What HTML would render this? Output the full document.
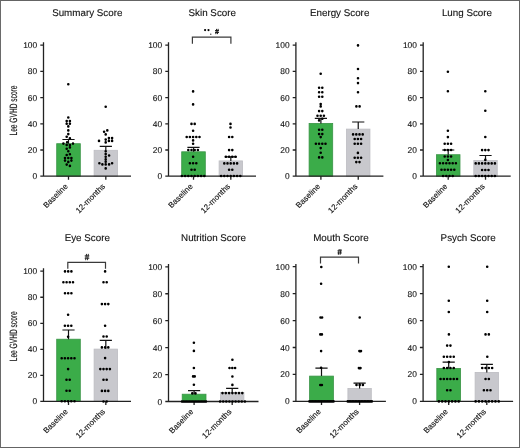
<!DOCTYPE html>
<html><head><meta charset="utf-8"><style>
html,body{margin:0;padding:0;background:#fff;}
body{width:520px;height:448px;overflow:hidden;position:relative;}
.frame{position:absolute;left:0;top:0;width:518px;height:446px;border:1px solid #646464;border-left-color:#6a6a6a;}
svg{position:absolute;left:0;top:0;will-change:transform;}
text{font-family:"Liberation Sans",sans-serif;fill:#111;stroke:#111;stroke-width:0.12;text-rendering:geometricPrecision;}
.ti{font-size:9.8px;text-anchor:middle;}
.tk{font-size:8.4px;text-anchor:end;}
.xl{font-size:8.0px;text-anchor:end;}
.yl{font-size:10.6px;text-anchor:middle;stroke:#222;stroke-width:0.15;}
.bl{font-size:8.5px;text-anchor:middle;stroke:#222;stroke-width:0.25;}
.ax{stroke:#222;stroke-width:1.3;fill:none;}
.eb{stroke:#111;stroke-width:1.2;fill:none;}
.br{stroke:#3a3a3a;stroke-width:1.2;fill:none;}
.dt{fill:#000;}
.gb{fill:#3bac49;stroke:#3a9447;stroke-width:0.8;}
.hb{fill:#c8c8cd;stroke:#bdbdc2;stroke-width:0.8;}
</style></head><body>
<div class="frame"></div>
<svg width="520" height="448" viewBox="0 0 520 448">
<rect x="56.7" y="143.7" width="23.6" height="32.5" class="gb"/>
<rect x="94.1" y="150.3" width="23.45" height="25.9" class="hb"/>
<path d="M68.5 143.7V139.5M62.4 139.5H74.6" class="eb"/>
<path d="M105.82 150.3V146.4M99.72 146.4H111.92" class="eb"/>
<path d="M43.5 42.2V176.2H131M40.3 176.2H43.5M40.3 150H43.5M40.3 123.8H43.5M40.3 97.6H43.5M40.3 71.4H43.5M40.3 45.2H43.5M68.5 176.2v3.5M105.82 176.2v3.5" class="ax"/>
<path d="M67 84.2a1.3 1.3 0 1 0 2.6 0a1.3 1.3 0 1 0 -2.6 0M67 117.5a1.3 1.3 0 1 0 2.6 0a1.3 1.3 0 1 0 -2.6 0M65.4 121.1a1.3 1.3 0 1 0 2.6 0a1.3 1.3 0 1 0 -2.6 0M68.6 121.1a1.3 1.3 0 1 0 2.6 0a1.3 1.3 0 1 0 -2.6 0M65.4 123.7a1.3 1.3 0 1 0 2.6 0a1.3 1.3 0 1 0 -2.6 0M68.6 123.7a1.3 1.3 0 1 0 2.6 0a1.3 1.3 0 1 0 -2.6 0M67 126.4a1.3 1.3 0 1 0 2.6 0a1.3 1.3 0 1 0 -2.6 0M67 130.4a1.3 1.3 0 1 0 2.6 0a1.3 1.3 0 1 0 -2.6 0M67 134.1a1.3 1.3 0 1 0 2.6 0a1.3 1.3 0 1 0 -2.6 0M65.4 136.8a1.3 1.3 0 1 0 2.6 0a1.3 1.3 0 1 0 -2.6 0M68.6 138.3a1.3 1.3 0 1 0 2.6 0a1.3 1.3 0 1 0 -2.6 0M65.8 142.2a1.3 1.3 0 1 0 2.6 0a1.3 1.3 0 1 0 -2.6 0M62.1 143.6a1.3 1.3 0 1 0 2.6 0a1.3 1.3 0 1 0 -2.6 0M71.7 143.6a1.3 1.3 0 1 0 2.6 0a1.3 1.3 0 1 0 -2.6 0M65.4 145a1.3 1.3 0 1 0 2.6 0a1.3 1.3 0 1 0 -2.6 0M68.6 145a1.3 1.3 0 1 0 2.6 0a1.3 1.3 0 1 0 -2.6 0M68.6 147.4a1.3 1.3 0 1 0 2.6 0a1.3 1.3 0 1 0 -2.6 0M65.4 148.7a1.3 1.3 0 1 0 2.6 0a1.3 1.3 0 1 0 -2.6 0M67 151.3a1.3 1.3 0 1 0 2.6 0a1.3 1.3 0 1 0 -2.6 0M68.6 154.2a1.3 1.3 0 1 0 2.6 0a1.3 1.3 0 1 0 -2.6 0M65.4 155a1.3 1.3 0 1 0 2.6 0a1.3 1.3 0 1 0 -2.6 0M63.7 158a1.3 1.3 0 1 0 2.6 0a1.3 1.3 0 1 0 -2.6 0M67 158a1.3 1.3 0 1 0 2.6 0a1.3 1.3 0 1 0 -2.6 0M70.1 158a1.3 1.3 0 1 0 2.6 0a1.3 1.3 0 1 0 -2.6 0M63.7 160.6a1.3 1.3 0 1 0 2.6 0a1.3 1.3 0 1 0 -2.6 0M70.1 160.6a1.3 1.3 0 1 0 2.6 0a1.3 1.3 0 1 0 -2.6 0M67 161.9a1.3 1.3 0 1 0 2.6 0a1.3 1.3 0 1 0 -2.6 0M65.4 164.6a1.3 1.3 0 1 0 2.6 0a1.3 1.3 0 1 0 -2.6 0M68.6 165.9a1.3 1.3 0 1 0 2.6 0a1.3 1.3 0 1 0 -2.6 0M104.4 106.8a1.3 1.3 0 1 0 2.6 0a1.3 1.3 0 1 0 -2.6 0M106 130.4a1.3 1.3 0 1 0 2.6 0a1.3 1.3 0 1 0 -2.6 0M102.8 131.7a1.3 1.3 0 1 0 2.6 0a1.3 1.3 0 1 0 -2.6 0M104.4 134.4a1.3 1.3 0 1 0 2.6 0a1.3 1.3 0 1 0 -2.6 0M107.6 138.1a1.3 1.3 0 1 0 2.6 0a1.3 1.3 0 1 0 -2.6 0M110.8 138.1a1.3 1.3 0 1 0 2.6 0a1.3 1.3 0 1 0 -2.6 0M104.4 139.6a1.3 1.3 0 1 0 2.6 0a1.3 1.3 0 1 0 -2.6 0M97.7 140.9a1.3 1.3 0 1 0 2.6 0a1.3 1.3 0 1 0 -2.6 0M107.6 140.9a1.3 1.3 0 1 0 2.6 0a1.3 1.3 0 1 0 -2.6 0M110.8 140.9a1.3 1.3 0 1 0 2.6 0a1.3 1.3 0 1 0 -2.6 0M104.4 142.4a1.3 1.3 0 1 0 2.6 0a1.3 1.3 0 1 0 -2.6 0M104.4 151.3a1.3 1.3 0 1 0 2.6 0a1.3 1.3 0 1 0 -2.6 0M104.4 154a1.3 1.3 0 1 0 2.6 0a1.3 1.3 0 1 0 -2.6 0M107.8 155.5a1.3 1.3 0 1 0 2.6 0a1.3 1.3 0 1 0 -2.6 0M104.4 156.7a1.3 1.3 0 1 0 2.6 0a1.3 1.3 0 1 0 -2.6 0M104.4 159.4a1.3 1.3 0 1 0 2.6 0a1.3 1.3 0 1 0 -2.6 0M104.4 161.7a1.3 1.3 0 1 0 2.6 0a1.3 1.3 0 1 0 -2.6 0M98.1 163.3a1.3 1.3 0 1 0 2.6 0a1.3 1.3 0 1 0 -2.6 0M101.1 164.4a1.3 1.3 0 1 0 2.6 0a1.3 1.3 0 1 0 -2.6 0M104.4 164.4a1.3 1.3 0 1 0 2.6 0a1.3 1.3 0 1 0 -2.6 0M107.8 164.4a1.3 1.3 0 1 0 2.6 0a1.3 1.3 0 1 0 -2.6 0M110.8 163.3a1.3 1.3 0 1 0 2.6 0a1.3 1.3 0 1 0 -2.6 0M104.4 168.4a1.3 1.3 0 1 0 2.6 0a1.3 1.3 0 1 0 -2.6 0" class="dt"/>
<text x="37.2" y="179.2" class="tk">0</text>
<text x="37.2" y="153" class="tk">20</text>
<text x="37.2" y="126.8" class="tk">40</text>
<text x="37.2" y="100.6" class="tk">60</text>
<text x="37.2" y="74.4" class="tk">80</text>
<text x="37.2" y="48.2" class="tk">100</text>
<text transform="translate(68.3 186.9) rotate(-45)" class="xl">Baseline</text>
<text transform="translate(105.62 186.9) rotate(-45)" class="xl">12-months</text>
<text x="87.25" y="16" class="ti">Summary Score</text>
<rect x="181.7" y="151.8" width="23.6" height="24.4" class="gb"/>
<rect x="219.1" y="160.9" width="23.45" height="15.3" class="hb"/>
<path d="M193.5 151.8V147.4M187.4 147.4H199.6" class="eb"/>
<path d="M230.82 160.9V156.8M224.72 156.8H236.92" class="eb"/>
<path d="M168.5 42.2V176.2H256M165.3 176.2H168.5M165.3 150H168.5M165.3 123.8H168.5M165.3 97.6H168.5M165.3 71.4H168.5M165.3 45.2H168.5M193.5 176.2v3.5M230.82 176.2v3.5" class="ax"/>
<path d="M191.8 91.4a1.3 1.3 0 1 0 2.6 0a1.3 1.3 0 1 0 -2.6 0M191.8 104.4a1.3 1.3 0 1 0 2.6 0a1.3 1.3 0 1 0 -2.6 0M190.2 123.9a1.3 1.3 0 1 0 2.6 0a1.3 1.3 0 1 0 -2.6 0M193.4 123.9a1.3 1.3 0 1 0 2.6 0a1.3 1.3 0 1 0 -2.6 0M191.8 130.8a1.3 1.3 0 1 0 2.6 0a1.3 1.3 0 1 0 -2.6 0M185.4 137a1.3 1.3 0 1 0 2.6 0a1.3 1.3 0 1 0 -2.6 0M188.6 137a1.3 1.3 0 1 0 2.6 0a1.3 1.3 0 1 0 -2.6 0M191.8 137a1.3 1.3 0 1 0 2.6 0a1.3 1.3 0 1 0 -2.6 0M195 137a1.3 1.3 0 1 0 2.6 0a1.3 1.3 0 1 0 -2.6 0M198.2 137a1.3 1.3 0 1 0 2.6 0a1.3 1.3 0 1 0 -2.6 0M191.8 140.4a1.3 1.3 0 1 0 2.6 0a1.3 1.3 0 1 0 -2.6 0M191.8 143.7a1.3 1.3 0 1 0 2.6 0a1.3 1.3 0 1 0 -2.6 0M187 150a1.3 1.3 0 1 0 2.6 0a1.3 1.3 0 1 0 -2.6 0M190.2 150a1.3 1.3 0 1 0 2.6 0a1.3 1.3 0 1 0 -2.6 0M193.4 150a1.3 1.3 0 1 0 2.6 0a1.3 1.3 0 1 0 -2.6 0M196.6 150a1.3 1.3 0 1 0 2.6 0a1.3 1.3 0 1 0 -2.6 0M191.8 156.7a1.3 1.3 0 1 0 2.6 0a1.3 1.3 0 1 0 -2.6 0M188.6 163.3a1.3 1.3 0 1 0 2.6 0a1.3 1.3 0 1 0 -2.6 0M191.8 163.3a1.3 1.3 0 1 0 2.6 0a1.3 1.3 0 1 0 -2.6 0M195 163.3a1.3 1.3 0 1 0 2.6 0a1.3 1.3 0 1 0 -2.6 0M190.2 169.7a1.3 1.3 0 1 0 2.6 0a1.3 1.3 0 1 0 -2.6 0M193.4 169.7a1.3 1.3 0 1 0 2.6 0a1.3 1.3 0 1 0 -2.6 0M180.6 176a1.3 1.3 0 1 0 2.6 0a1.3 1.3 0 1 0 -2.6 0M183.8 176a1.3 1.3 0 1 0 2.6 0a1.3 1.3 0 1 0 -2.6 0M187 176a1.3 1.3 0 1 0 2.6 0a1.3 1.3 0 1 0 -2.6 0M190.2 176a1.3 1.3 0 1 0 2.6 0a1.3 1.3 0 1 0 -2.6 0M193.4 176a1.3 1.3 0 1 0 2.6 0a1.3 1.3 0 1 0 -2.6 0M196.6 176a1.3 1.3 0 1 0 2.6 0a1.3 1.3 0 1 0 -2.6 0M199.8 176a1.3 1.3 0 1 0 2.6 0a1.3 1.3 0 1 0 -2.6 0M203 176a1.3 1.3 0 1 0 2.6 0a1.3 1.3 0 1 0 -2.6 0M229.2 123.9a1.3 1.3 0 1 0 2.6 0a1.3 1.3 0 1 0 -2.6 0M229.2 127.5a1.3 1.3 0 1 0 2.6 0a1.3 1.3 0 1 0 -2.6 0M227.8 137a1.3 1.3 0 1 0 2.6 0a1.3 1.3 0 1 0 -2.6 0M231 137a1.3 1.3 0 1 0 2.6 0a1.3 1.3 0 1 0 -2.6 0M227.8 150.1a1.3 1.3 0 1 0 2.6 0a1.3 1.3 0 1 0 -2.6 0M231 150.1a1.3 1.3 0 1 0 2.6 0a1.3 1.3 0 1 0 -2.6 0M224.6 156.8a1.3 1.3 0 1 0 2.6 0a1.3 1.3 0 1 0 -2.6 0M227.8 156.8a1.3 1.3 0 1 0 2.6 0a1.3 1.3 0 1 0 -2.6 0M231 156.8a1.3 1.3 0 1 0 2.6 0a1.3 1.3 0 1 0 -2.6 0M234.2 156.8a1.3 1.3 0 1 0 2.6 0a1.3 1.3 0 1 0 -2.6 0M223 163.4a1.3 1.3 0 1 0 2.6 0a1.3 1.3 0 1 0 -2.6 0M226.2 163.4a1.3 1.3 0 1 0 2.6 0a1.3 1.3 0 1 0 -2.6 0M229.4 163.4a1.3 1.3 0 1 0 2.6 0a1.3 1.3 0 1 0 -2.6 0M232.6 163.4a1.3 1.3 0 1 0 2.6 0a1.3 1.3 0 1 0 -2.6 0M235.8 163.4a1.3 1.3 0 1 0 2.6 0a1.3 1.3 0 1 0 -2.6 0M227.8 169.7a1.3 1.3 0 1 0 2.6 0a1.3 1.3 0 1 0 -2.6 0M231 169.7a1.3 1.3 0 1 0 2.6 0a1.3 1.3 0 1 0 -2.6 0M219.8 176a1.3 1.3 0 1 0 2.6 0a1.3 1.3 0 1 0 -2.6 0M223 176a1.3 1.3 0 1 0 2.6 0a1.3 1.3 0 1 0 -2.6 0M226.2 176a1.3 1.3 0 1 0 2.6 0a1.3 1.3 0 1 0 -2.6 0M229.4 176a1.3 1.3 0 1 0 2.6 0a1.3 1.3 0 1 0 -2.6 0M232.6 176a1.3 1.3 0 1 0 2.6 0a1.3 1.3 0 1 0 -2.6 0M235.8 176a1.3 1.3 0 1 0 2.6 0a1.3 1.3 0 1 0 -2.6 0M239 176a1.3 1.3 0 1 0 2.6 0a1.3 1.3 0 1 0 -2.6 0" class="dt"/>
<text x="162.2" y="179.2" class="tk">0</text>
<text x="162.2" y="153" class="tk">20</text>
<text x="162.2" y="126.8" class="tk">40</text>
<text x="162.2" y="100.6" class="tk">60</text>
<text x="162.2" y="74.4" class="tk">80</text>
<text x="162.2" y="48.2" class="tk">100</text>
<text transform="translate(193.3 186.9) rotate(-45)" class="xl">Baseline</text>
<text transform="translate(230.62 186.9) rotate(-45)" class="xl">12-months</text>
<text x="212.25" y="16" class="ti">Skin Score</text>
<path d="M192.4 43.8V37.2H230.9V43.8" class="br"/>
<circle cx="205.1" cy="30.1" r="1.1" class="dt"/><circle cx="208.5" cy="30.1" r="1.1" class="dt"/><circle cx="210.8" cy="34.2" r="0.6" class="dt"/><path d="M215.77 34.15L216.67 28.85M217.33 34.15L218.23 28.85M215.05 30.55H218.95M215.05 32.45H218.95" stroke="#1a1a1a" stroke-width="1.0" fill="none"/>
<rect x="309.1" y="123.4" width="23.6" height="52.8" class="gb"/>
<rect x="346.5" y="129.1" width="23.45" height="47.1" class="hb"/>
<path d="M320.9 123.4V118.3M314.8 118.3H327" class="eb"/>
<path d="M358.23 129.1V122M352.12 122H364.33" class="eb"/>
<path d="M295.9 42.2V176.2H383.4M292.7 176.2H295.9M292.7 150H295.9M292.7 123.8H295.9M292.7 97.6H295.9M292.7 71.4H295.9M292.7 45.2H295.9M320.9 176.2v3.5M358.23 176.2v3.5" class="ax"/>
<path d="M319.4 73.7a1.3 1.3 0 1 0 2.6 0a1.3 1.3 0 1 0 -2.6 0M317.8 87.8a1.3 1.3 0 1 0 2.6 0a1.3 1.3 0 1 0 -2.6 0M321 87.8a1.3 1.3 0 1 0 2.6 0a1.3 1.3 0 1 0 -2.6 0M317.8 92.3a1.3 1.3 0 1 0 2.6 0a1.3 1.3 0 1 0 -2.6 0M321 92.3a1.3 1.3 0 1 0 2.6 0a1.3 1.3 0 1 0 -2.6 0M317.8 96.8a1.3 1.3 0 1 0 2.6 0a1.3 1.3 0 1 0 -2.6 0M321 96.8a1.3 1.3 0 1 0 2.6 0a1.3 1.3 0 1 0 -2.6 0M319.4 104.1a1.3 1.3 0 1 0 2.6 0a1.3 1.3 0 1 0 -2.6 0M319.4 106.4a1.3 1.3 0 1 0 2.6 0a1.3 1.3 0 1 0 -2.6 0M317.8 111.1a1.3 1.3 0 1 0 2.6 0a1.3 1.3 0 1 0 -2.6 0M321 111.1a1.3 1.3 0 1 0 2.6 0a1.3 1.3 0 1 0 -2.6 0M316.2 115.7a1.3 1.3 0 1 0 2.6 0a1.3 1.3 0 1 0 -2.6 0M319.4 115.7a1.3 1.3 0 1 0 2.6 0a1.3 1.3 0 1 0 -2.6 0M322.6 115.7a1.3 1.3 0 1 0 2.6 0a1.3 1.3 0 1 0 -2.6 0M321 118.7a1.3 1.3 0 1 0 2.6 0a1.3 1.3 0 1 0 -2.6 0M317.8 120.4a1.3 1.3 0 1 0 2.6 0a1.3 1.3 0 1 0 -2.6 0M317.8 129.7a1.3 1.3 0 1 0 2.6 0a1.3 1.3 0 1 0 -2.6 0M321 129.7a1.3 1.3 0 1 0 2.6 0a1.3 1.3 0 1 0 -2.6 0M317.8 134.1a1.3 1.3 0 1 0 2.6 0a1.3 1.3 0 1 0 -2.6 0M321 134.1a1.3 1.3 0 1 0 2.6 0a1.3 1.3 0 1 0 -2.6 0M319.4 137.1a1.3 1.3 0 1 0 2.6 0a1.3 1.3 0 1 0 -2.6 0M314.6 143.7a1.3 1.3 0 1 0 2.6 0a1.3 1.3 0 1 0 -2.6 0M317.8 143.7a1.3 1.3 0 1 0 2.6 0a1.3 1.3 0 1 0 -2.6 0M321 143.7a1.3 1.3 0 1 0 2.6 0a1.3 1.3 0 1 0 -2.6 0M324.2 143.7a1.3 1.3 0 1 0 2.6 0a1.3 1.3 0 1 0 -2.6 0M319.4 148.1a1.3 1.3 0 1 0 2.6 0a1.3 1.3 0 1 0 -2.6 0M319.4 152.7a1.3 1.3 0 1 0 2.6 0a1.3 1.3 0 1 0 -2.6 0M317.8 157.4a1.3 1.3 0 1 0 2.6 0a1.3 1.3 0 1 0 -2.6 0M321 157.4a1.3 1.3 0 1 0 2.6 0a1.3 1.3 0 1 0 -2.6 0M356.7 45.4a1.3 1.3 0 1 0 2.6 0a1.3 1.3 0 1 0 -2.6 0M356.7 69a1.3 1.3 0 1 0 2.6 0a1.3 1.3 0 1 0 -2.6 0M356.7 78.3a1.3 1.3 0 1 0 2.6 0a1.3 1.3 0 1 0 -2.6 0M356.7 83.1a1.3 1.3 0 1 0 2.6 0a1.3 1.3 0 1 0 -2.6 0M356.7 92.2a1.3 1.3 0 1 0 2.6 0a1.3 1.3 0 1 0 -2.6 0M355.1 106.4a1.3 1.3 0 1 0 2.6 0a1.3 1.3 0 1 0 -2.6 0M358.3 106.4a1.3 1.3 0 1 0 2.6 0a1.3 1.3 0 1 0 -2.6 0M351.8 134.4a1.3 1.3 0 1 0 2.6 0a1.3 1.3 0 1 0 -2.6 0M355 134.4a1.3 1.3 0 1 0 2.6 0a1.3 1.3 0 1 0 -2.6 0M358.2 134.4a1.3 1.3 0 1 0 2.6 0a1.3 1.3 0 1 0 -2.6 0M361.4 134.4a1.3 1.3 0 1 0 2.6 0a1.3 1.3 0 1 0 -2.6 0M353.4 139a1.3 1.3 0 1 0 2.6 0a1.3 1.3 0 1 0 -2.6 0M356.6 139a1.3 1.3 0 1 0 2.6 0a1.3 1.3 0 1 0 -2.6 0M359.8 139a1.3 1.3 0 1 0 2.6 0a1.3 1.3 0 1 0 -2.6 0M353.4 143.7a1.3 1.3 0 1 0 2.6 0a1.3 1.3 0 1 0 -2.6 0M356.6 143.7a1.3 1.3 0 1 0 2.6 0a1.3 1.3 0 1 0 -2.6 0M359.8 143.7a1.3 1.3 0 1 0 2.6 0a1.3 1.3 0 1 0 -2.6 0M356.6 152.9a1.3 1.3 0 1 0 2.6 0a1.3 1.3 0 1 0 -2.6 0M353.4 157.8a1.3 1.3 0 1 0 2.6 0a1.3 1.3 0 1 0 -2.6 0M356.6 157.8a1.3 1.3 0 1 0 2.6 0a1.3 1.3 0 1 0 -2.6 0M359.8 157.8a1.3 1.3 0 1 0 2.6 0a1.3 1.3 0 1 0 -2.6 0M355 162.1a1.3 1.3 0 1 0 2.6 0a1.3 1.3 0 1 0 -2.6 0M358.2 162.1a1.3 1.3 0 1 0 2.6 0a1.3 1.3 0 1 0 -2.6 0" class="dt"/>
<text x="289.6" y="179.2" class="tk">0</text>
<text x="289.6" y="153" class="tk">20</text>
<text x="289.6" y="126.8" class="tk">40</text>
<text x="289.6" y="100.6" class="tk">60</text>
<text x="289.6" y="74.4" class="tk">80</text>
<text x="289.6" y="48.2" class="tk">100</text>
<text transform="translate(320.7 186.9) rotate(-45)" class="xl">Baseline</text>
<text transform="translate(358.03 186.9) rotate(-45)" class="xl">12-months</text>
<text x="339.65" y="16" class="ti">Energy Score</text>
<rect x="436.4" y="154.7" width="23.6" height="21.5" class="gb"/>
<rect x="473.8" y="160.4" width="23.45" height="15.8" class="hb"/>
<path d="M448.2 154.7V150M442.1 150H454.3" class="eb"/>
<path d="M485.52 160.4V155.5M479.42 155.5H491.62" class="eb"/>
<path d="M423.2 42.2V176.2H510.7M420 176.2H423.2M420 150H423.2M420 123.8H423.2M420 97.6H423.2M420 71.4H423.2M420 45.2H423.2M448.2 176.2v3.5M485.52 176.2v3.5" class="ax"/>
<path d="M446.6 71.7a1.3 1.3 0 1 0 2.6 0a1.3 1.3 0 1 0 -2.6 0M446.6 91.3a1.3 1.3 0 1 0 2.6 0a1.3 1.3 0 1 0 -2.6 0M446.6 130.7a1.3 1.3 0 1 0 2.6 0a1.3 1.3 0 1 0 -2.6 0M446.6 137.1a1.3 1.3 0 1 0 2.6 0a1.3 1.3 0 1 0 -2.6 0M443.4 143.8a1.3 1.3 0 1 0 2.6 0a1.3 1.3 0 1 0 -2.6 0M446.6 143.8a1.3 1.3 0 1 0 2.6 0a1.3 1.3 0 1 0 -2.6 0M449.8 143.8a1.3 1.3 0 1 0 2.6 0a1.3 1.3 0 1 0 -2.6 0M443.4 150a1.3 1.3 0 1 0 2.6 0a1.3 1.3 0 1 0 -2.6 0M446.6 150a1.3 1.3 0 1 0 2.6 0a1.3 1.3 0 1 0 -2.6 0M449.8 150a1.3 1.3 0 1 0 2.6 0a1.3 1.3 0 1 0 -2.6 0M443.4 156.5a1.3 1.3 0 1 0 2.6 0a1.3 1.3 0 1 0 -2.6 0M446.6 156.5a1.3 1.3 0 1 0 2.6 0a1.3 1.3 0 1 0 -2.6 0M449.8 156.5a1.3 1.3 0 1 0 2.6 0a1.3 1.3 0 1 0 -2.6 0M446.6 160a1.3 1.3 0 1 0 2.6 0a1.3 1.3 0 1 0 -2.6 0M438.6 163.3a1.3 1.3 0 1 0 2.6 0a1.3 1.3 0 1 0 -2.6 0M441.8 163.3a1.3 1.3 0 1 0 2.6 0a1.3 1.3 0 1 0 -2.6 0M445 163.3a1.3 1.3 0 1 0 2.6 0a1.3 1.3 0 1 0 -2.6 0M448.2 163.3a1.3 1.3 0 1 0 2.6 0a1.3 1.3 0 1 0 -2.6 0M451.4 163.3a1.3 1.3 0 1 0 2.6 0a1.3 1.3 0 1 0 -2.6 0M454.6 163.3a1.3 1.3 0 1 0 2.6 0a1.3 1.3 0 1 0 -2.6 0M440.2 169.7a1.3 1.3 0 1 0 2.6 0a1.3 1.3 0 1 0 -2.6 0M443.4 169.7a1.3 1.3 0 1 0 2.6 0a1.3 1.3 0 1 0 -2.6 0M446.6 169.7a1.3 1.3 0 1 0 2.6 0a1.3 1.3 0 1 0 -2.6 0M449.8 169.7a1.3 1.3 0 1 0 2.6 0a1.3 1.3 0 1 0 -2.6 0M453 169.7a1.3 1.3 0 1 0 2.6 0a1.3 1.3 0 1 0 -2.6 0M441.8 176a1.3 1.3 0 1 0 2.6 0a1.3 1.3 0 1 0 -2.6 0M445 176a1.3 1.3 0 1 0 2.6 0a1.3 1.3 0 1 0 -2.6 0M448.2 176a1.3 1.3 0 1 0 2.6 0a1.3 1.3 0 1 0 -2.6 0M451.4 176a1.3 1.3 0 1 0 2.6 0a1.3 1.3 0 1 0 -2.6 0M484 91.3a1.3 1.3 0 1 0 2.6 0a1.3 1.3 0 1 0 -2.6 0M484 110.8a1.3 1.3 0 1 0 2.6 0a1.3 1.3 0 1 0 -2.6 0M484 137a1.3 1.3 0 1 0 2.6 0a1.3 1.3 0 1 0 -2.6 0M480.8 150.1a1.3 1.3 0 1 0 2.6 0a1.3 1.3 0 1 0 -2.6 0M484 150.1a1.3 1.3 0 1 0 2.6 0a1.3 1.3 0 1 0 -2.6 0M487.2 150.1a1.3 1.3 0 1 0 2.6 0a1.3 1.3 0 1 0 -2.6 0M484 159.9a1.3 1.3 0 1 0 2.6 0a1.3 1.3 0 1 0 -2.6 0M474.4 163.4a1.3 1.3 0 1 0 2.6 0a1.3 1.3 0 1 0 -2.6 0M477.6 163.4a1.3 1.3 0 1 0 2.6 0a1.3 1.3 0 1 0 -2.6 0M480.8 163.4a1.3 1.3 0 1 0 2.6 0a1.3 1.3 0 1 0 -2.6 0M484 163.4a1.3 1.3 0 1 0 2.6 0a1.3 1.3 0 1 0 -2.6 0M487.2 163.4a1.3 1.3 0 1 0 2.6 0a1.3 1.3 0 1 0 -2.6 0M490.4 163.4a1.3 1.3 0 1 0 2.6 0a1.3 1.3 0 1 0 -2.6 0M493.6 163.4a1.3 1.3 0 1 0 2.6 0a1.3 1.3 0 1 0 -2.6 0M480.8 170a1.3 1.3 0 1 0 2.6 0a1.3 1.3 0 1 0 -2.6 0M484 170a1.3 1.3 0 1 0 2.6 0a1.3 1.3 0 1 0 -2.6 0M487.2 170a1.3 1.3 0 1 0 2.6 0a1.3 1.3 0 1 0 -2.6 0M474.4 176a1.3 1.3 0 1 0 2.6 0a1.3 1.3 0 1 0 -2.6 0M477.6 176a1.3 1.3 0 1 0 2.6 0a1.3 1.3 0 1 0 -2.6 0M480.8 176a1.3 1.3 0 1 0 2.6 0a1.3 1.3 0 1 0 -2.6 0M484 176a1.3 1.3 0 1 0 2.6 0a1.3 1.3 0 1 0 -2.6 0M487.2 176a1.3 1.3 0 1 0 2.6 0a1.3 1.3 0 1 0 -2.6 0M490.4 176a1.3 1.3 0 1 0 2.6 0a1.3 1.3 0 1 0 -2.6 0M493.6 176a1.3 1.3 0 1 0 2.6 0a1.3 1.3 0 1 0 -2.6 0" class="dt"/>
<text x="416.9" y="179.2" class="tk">0</text>
<text x="416.9" y="153" class="tk">20</text>
<text x="416.9" y="126.8" class="tk">40</text>
<text x="416.9" y="100.6" class="tk">60</text>
<text x="416.9" y="74.4" class="tk">80</text>
<text x="416.9" y="48.2" class="tk">100</text>
<text transform="translate(448 186.9) rotate(-45)" class="xl">Baseline</text>
<text transform="translate(485.32 186.9) rotate(-45)" class="xl">12-months</text>
<text x="466.95" y="16" class="ti">Lung Score</text>
<rect x="56.7" y="339.2" width="23.6" height="62.2" class="gb"/>
<rect x="94.1" y="349.1" width="23.45" height="52.3" class="hb"/>
<path d="M68.5 339.2V330M62.4 330H74.6" class="eb"/>
<path d="M105.82 349.1V340.3M99.72 340.3H111.92" class="eb"/>
<path d="M43.5 268.2V401.4H131M40.3 401.4H43.5M40.3 375.36H43.5M40.3 349.32H43.5M40.3 323.28H43.5M40.3 297.24H43.5M40.3 271.2H43.5M68.5 401.4v3.5M105.82 401.4v3.5" class="ax"/>
<path d="M63.7 271.4a1.3 1.3 0 1 0 2.6 0a1.3 1.3 0 1 0 -2.6 0M66.9 271.4a1.3 1.3 0 1 0 2.6 0a1.3 1.3 0 1 0 -2.6 0M70.1 271.4a1.3 1.3 0 1 0 2.6 0a1.3 1.3 0 1 0 -2.6 0M62.1 282.3a1.3 1.3 0 1 0 2.6 0a1.3 1.3 0 1 0 -2.6 0M65.3 282.3a1.3 1.3 0 1 0 2.6 0a1.3 1.3 0 1 0 -2.6 0M68.5 282.3a1.3 1.3 0 1 0 2.6 0a1.3 1.3 0 1 0 -2.6 0M71.7 282.3a1.3 1.3 0 1 0 2.6 0a1.3 1.3 0 1 0 -2.6 0M63.7 293.2a1.3 1.3 0 1 0 2.6 0a1.3 1.3 0 1 0 -2.6 0M66.9 293.2a1.3 1.3 0 1 0 2.6 0a1.3 1.3 0 1 0 -2.6 0M70.1 293.2a1.3 1.3 0 1 0 2.6 0a1.3 1.3 0 1 0 -2.6 0M66.8 314.8a1.3 1.3 0 1 0 2.6 0a1.3 1.3 0 1 0 -2.6 0M63.6 325.7a1.3 1.3 0 1 0 2.6 0a1.3 1.3 0 1 0 -2.6 0M66.8 325.7a1.3 1.3 0 1 0 2.6 0a1.3 1.3 0 1 0 -2.6 0M70 325.7a1.3 1.3 0 1 0 2.6 0a1.3 1.3 0 1 0 -2.6 0M66.8 336.7a1.3 1.3 0 1 0 2.6 0a1.3 1.3 0 1 0 -2.6 0M60.4 358.3a1.3 1.3 0 1 0 2.6 0a1.3 1.3 0 1 0 -2.6 0M63.6 358.3a1.3 1.3 0 1 0 2.6 0a1.3 1.3 0 1 0 -2.6 0M66.8 358.3a1.3 1.3 0 1 0 2.6 0a1.3 1.3 0 1 0 -2.6 0M70 358.3a1.3 1.3 0 1 0 2.6 0a1.3 1.3 0 1 0 -2.6 0M73.2 358.3a1.3 1.3 0 1 0 2.6 0a1.3 1.3 0 1 0 -2.6 0M66.8 369.1a1.3 1.3 0 1 0 2.6 0a1.3 1.3 0 1 0 -2.6 0M65.2 379.8a1.3 1.3 0 1 0 2.6 0a1.3 1.3 0 1 0 -2.6 0M68.4 379.8a1.3 1.3 0 1 0 2.6 0a1.3 1.3 0 1 0 -2.6 0M65.2 390.7a1.3 1.3 0 1 0 2.6 0a1.3 1.3 0 1 0 -2.6 0M68.4 390.7a1.3 1.3 0 1 0 2.6 0a1.3 1.3 0 1 0 -2.6 0M60.4 401.3a1.3 1.3 0 1 0 2.6 0a1.3 1.3 0 1 0 -2.6 0M63.6 401.3a1.3 1.3 0 1 0 2.6 0a1.3 1.3 0 1 0 -2.6 0M66.8 401.3a1.3 1.3 0 1 0 2.6 0a1.3 1.3 0 1 0 -2.6 0M70 401.3a1.3 1.3 0 1 0 2.6 0a1.3 1.3 0 1 0 -2.6 0M73.2 401.3a1.3 1.3 0 1 0 2.6 0a1.3 1.3 0 1 0 -2.6 0M103.8 271.4a1.3 1.3 0 1 0 2.6 0a1.3 1.3 0 1 0 -2.6 0M102.2 282.3a1.3 1.3 0 1 0 2.6 0a1.3 1.3 0 1 0 -2.6 0M105.4 282.3a1.3 1.3 0 1 0 2.6 0a1.3 1.3 0 1 0 -2.6 0M100.6 304.1a1.3 1.3 0 1 0 2.6 0a1.3 1.3 0 1 0 -2.6 0M103.8 304.1a1.3 1.3 0 1 0 2.6 0a1.3 1.3 0 1 0 -2.6 0M107 304.1a1.3 1.3 0 1 0 2.6 0a1.3 1.3 0 1 0 -2.6 0M103.8 325.7a1.3 1.3 0 1 0 2.6 0a1.3 1.3 0 1 0 -2.6 0M102.2 336.5a1.3 1.3 0 1 0 2.6 0a1.3 1.3 0 1 0 -2.6 0M105.4 336.5a1.3 1.3 0 1 0 2.6 0a1.3 1.3 0 1 0 -2.6 0M100.6 347.4a1.3 1.3 0 1 0 2.6 0a1.3 1.3 0 1 0 -2.6 0M103.8 347.4a1.3 1.3 0 1 0 2.6 0a1.3 1.3 0 1 0 -2.6 0M107 347.4a1.3 1.3 0 1 0 2.6 0a1.3 1.3 0 1 0 -2.6 0M103.8 358.1a1.3 1.3 0 1 0 2.6 0a1.3 1.3 0 1 0 -2.6 0M99 369.1a1.3 1.3 0 1 0 2.6 0a1.3 1.3 0 1 0 -2.6 0M102.2 369.1a1.3 1.3 0 1 0 2.6 0a1.3 1.3 0 1 0 -2.6 0M105.4 369.1a1.3 1.3 0 1 0 2.6 0a1.3 1.3 0 1 0 -2.6 0M108.6 369.1a1.3 1.3 0 1 0 2.6 0a1.3 1.3 0 1 0 -2.6 0M102.2 379.8a1.3 1.3 0 1 0 2.6 0a1.3 1.3 0 1 0 -2.6 0M105.4 379.8a1.3 1.3 0 1 0 2.6 0a1.3 1.3 0 1 0 -2.6 0M100.6 390.9a1.3 1.3 0 1 0 2.6 0a1.3 1.3 0 1 0 -2.6 0M103.8 390.9a1.3 1.3 0 1 0 2.6 0a1.3 1.3 0 1 0 -2.6 0M107 390.9a1.3 1.3 0 1 0 2.6 0a1.3 1.3 0 1 0 -2.6 0M102.2 401.5a1.3 1.3 0 1 0 2.6 0a1.3 1.3 0 1 0 -2.6 0M105.4 401.5a1.3 1.3 0 1 0 2.6 0a1.3 1.3 0 1 0 -2.6 0" class="dt"/>
<text x="37.2" y="404.4" class="tk">0</text>
<text x="37.2" y="378.36" class="tk">20</text>
<text x="37.2" y="352.32" class="tk">40</text>
<text x="37.2" y="326.28" class="tk">60</text>
<text x="37.2" y="300.24" class="tk">80</text>
<text x="37.2" y="274.2" class="tk">100</text>
<text transform="translate(68.3 412.1) rotate(-45)" class="xl">Baseline</text>
<text transform="translate(105.62 412.1) rotate(-45)" class="xl">12-months</text>
<text x="87.25" y="240.8" class="ti">Eye Score</text>
<path d="M67.8 268.8V262.4H105.5V268.8" class="br"/>
<path d="M85.63 260.20L86.53 253.90M87.47 260.20L88.37 253.90M84.70 255.92H89.30M84.70 258.18H89.30" stroke="#1a1a1a" stroke-width="0.95" fill="none"/>
<rect x="182.2" y="394.2" width="23.8" height="7.3" class="gb"/>
<rect x="220.5" y="392.4" width="23.4" height="9.1" class="hb"/>
<path d="M194.1 394.2V390.6M188 390.6H200.2" class="eb"/>
<path d="M232.2 392.4V388.4M226.1 388.4H238.3" class="eb"/>
<path d="M168.5 263.9V401.5H258.5M165.3 401.5H168.5M165.3 374.56H168.5M165.3 347.62H168.5M165.3 320.68H168.5M165.3 293.74H168.5M165.3 266.8H168.5M194.1 401.5v3.5M232.2 401.5v3.5" class="ax"/>
<path d="M192.6 342.7a1.3 1.3 0 1 0 2.6 0a1.3 1.3 0 1 0 -2.6 0M192.6 350.9a1.3 1.3 0 1 0 2.6 0a1.3 1.3 0 1 0 -2.6 0M192.6 368a1.3 1.3 0 1 0 2.6 0a1.3 1.3 0 1 0 -2.6 0M191.8 376.4a1.3 1.3 0 1 0 2.6 0a1.3 1.3 0 1 0 -2.6 0M193.4 376.4a1.3 1.3 0 1 0 2.6 0a1.3 1.3 0 1 0 -2.6 0M192.6 384.8a1.3 1.3 0 1 0 2.6 0a1.3 1.3 0 1 0 -2.6 0M191 393.4a1.3 1.3 0 1 0 2.6 0a1.3 1.3 0 1 0 -2.6 0M194.2 393.4a1.3 1.3 0 1 0 2.6 0a1.3 1.3 0 1 0 -2.6 0M180.7 401.5a1.3 1.3 0 1 0 2.6 0a1.3 1.3 0 1 0 -2.6 0M182.2 401.5a1.3 1.3 0 1 0 2.6 0a1.3 1.3 0 1 0 -2.6 0M183.7 401.5a1.3 1.3 0 1 0 2.6 0a1.3 1.3 0 1 0 -2.6 0M185.2 401.5a1.3 1.3 0 1 0 2.6 0a1.3 1.3 0 1 0 -2.6 0M186.7 401.5a1.3 1.3 0 1 0 2.6 0a1.3 1.3 0 1 0 -2.6 0M188.2 401.5a1.3 1.3 0 1 0 2.6 0a1.3 1.3 0 1 0 -2.6 0M189.7 401.5a1.3 1.3 0 1 0 2.6 0a1.3 1.3 0 1 0 -2.6 0M191.2 401.5a1.3 1.3 0 1 0 2.6 0a1.3 1.3 0 1 0 -2.6 0M192.7 401.5a1.3 1.3 0 1 0 2.6 0a1.3 1.3 0 1 0 -2.6 0M194.2 401.5a1.3 1.3 0 1 0 2.6 0a1.3 1.3 0 1 0 -2.6 0M195.7 401.5a1.3 1.3 0 1 0 2.6 0a1.3 1.3 0 1 0 -2.6 0M197.2 401.5a1.3 1.3 0 1 0 2.6 0a1.3 1.3 0 1 0 -2.6 0M198.7 401.5a1.3 1.3 0 1 0 2.6 0a1.3 1.3 0 1 0 -2.6 0M200.2 401.5a1.3 1.3 0 1 0 2.6 0a1.3 1.3 0 1 0 -2.6 0M201.7 401.5a1.3 1.3 0 1 0 2.6 0a1.3 1.3 0 1 0 -2.6 0M203.2 401.5a1.3 1.3 0 1 0 2.6 0a1.3 1.3 0 1 0 -2.6 0M204.7 401.5a1.3 1.3 0 1 0 2.6 0a1.3 1.3 0 1 0 -2.6 0M231.1 359.7a1.3 1.3 0 1 0 2.6 0a1.3 1.3 0 1 0 -2.6 0M228.2 368a1.3 1.3 0 1 0 2.6 0a1.3 1.3 0 1 0 -2.6 0M231 368a1.3 1.3 0 1 0 2.6 0a1.3 1.3 0 1 0 -2.6 0M233.8 368a1.3 1.3 0 1 0 2.6 0a1.3 1.3 0 1 0 -2.6 0M231.1 376.5a1.3 1.3 0 1 0 2.6 0a1.3 1.3 0 1 0 -2.6 0M231.1 384.9a1.3 1.3 0 1 0 2.6 0a1.3 1.3 0 1 0 -2.6 0M221.2 393.1a1.3 1.3 0 1 0 2.6 0a1.3 1.3 0 1 0 -2.6 0M224.5 393.1a1.3 1.3 0 1 0 2.6 0a1.3 1.3 0 1 0 -2.6 0M227.8 393.1a1.3 1.3 0 1 0 2.6 0a1.3 1.3 0 1 0 -2.6 0M231.1 393.1a1.3 1.3 0 1 0 2.6 0a1.3 1.3 0 1 0 -2.6 0M234.4 393.1a1.3 1.3 0 1 0 2.6 0a1.3 1.3 0 1 0 -2.6 0M237.7 393.1a1.3 1.3 0 1 0 2.6 0a1.3 1.3 0 1 0 -2.6 0M241 393.1a1.3 1.3 0 1 0 2.6 0a1.3 1.3 0 1 0 -2.6 0M218.8 401.5a1.3 1.3 0 1 0 2.6 0a1.3 1.3 0 1 0 -2.6 0M221.9 401.5a1.3 1.3 0 1 0 2.6 0a1.3 1.3 0 1 0 -2.6 0M225 401.5a1.3 1.3 0 1 0 2.6 0a1.3 1.3 0 1 0 -2.6 0M228.1 401.5a1.3 1.3 0 1 0 2.6 0a1.3 1.3 0 1 0 -2.6 0M231.2 401.5a1.3 1.3 0 1 0 2.6 0a1.3 1.3 0 1 0 -2.6 0M234.3 401.5a1.3 1.3 0 1 0 2.6 0a1.3 1.3 0 1 0 -2.6 0M237.4 401.5a1.3 1.3 0 1 0 2.6 0a1.3 1.3 0 1 0 -2.6 0M240.5 401.5a1.3 1.3 0 1 0 2.6 0a1.3 1.3 0 1 0 -2.6 0M243.6 401.5a1.3 1.3 0 1 0 2.6 0a1.3 1.3 0 1 0 -2.6 0" class="dt"/>
<text x="162.2" y="404.5" class="tk">0</text>
<text x="162.2" y="377.56" class="tk">20</text>
<text x="162.2" y="350.62" class="tk">40</text>
<text x="162.2" y="323.68" class="tk">60</text>
<text x="162.2" y="296.74" class="tk">80</text>
<text x="162.2" y="269.8" class="tk">100</text>
<text transform="translate(193.9 412.2) rotate(-45)" class="xl">Baseline</text>
<text transform="translate(232 412.2) rotate(-45)" class="xl">12-months</text>
<text x="213.5" y="240.8" class="ti">Nutrition Score</text>
<rect x="309.6" y="376.1" width="23.8" height="25.3" class="gb"/>
<rect x="347.9" y="388.4" width="23.4" height="13" class="hb"/>
<path d="M321.5 376.1V368.1M315.4 368.1H327.6" class="eb"/>
<path d="M359.6 388.4V383.2M353.5 383.2H365.7" class="eb"/>
<path d="M295.9 263.9V401.4H385.9M292.7 401.4H295.9M292.7 374.46H295.9M292.7 347.52H295.9M292.7 320.58H295.9M292.7 293.64H295.9M292.7 266.7H295.9M321.5 401.4v3.5M359.6 401.4v3.5" class="ax"/>
<path d="M320 267a1.3 1.3 0 1 0 2.6 0a1.3 1.3 0 1 0 -2.6 0M319.8 283.8a1.3 1.3 0 1 0 2.6 0a1.3 1.3 0 1 0 -2.6 0M319.2 317.5a1.3 1.3 0 1 0 2.6 0a1.3 1.3 0 1 0 -2.6 0M320.8 317.5a1.3 1.3 0 1 0 2.6 0a1.3 1.3 0 1 0 -2.6 0M319 334.4a1.3 1.3 0 1 0 2.6 0a1.3 1.3 0 1 0 -2.6 0M320.6 334.4a1.3 1.3 0 1 0 2.6 0a1.3 1.3 0 1 0 -2.6 0M319.8 351.1a1.3 1.3 0 1 0 2.6 0a1.3 1.3 0 1 0 -2.6 0M319.8 367.7a1.3 1.3 0 1 0 2.6 0a1.3 1.3 0 1 0 -2.6 0M319 385a1.3 1.3 0 1 0 2.6 0a1.3 1.3 0 1 0 -2.6 0M320.6 385a1.3 1.3 0 1 0 2.6 0a1.3 1.3 0 1 0 -2.6 0M308.2 401.4a1.3 1.3 0 1 0 2.6 0a1.3 1.3 0 1 0 -2.6 0M309.7 401.4a1.3 1.3 0 1 0 2.6 0a1.3 1.3 0 1 0 -2.6 0M311.2 401.4a1.3 1.3 0 1 0 2.6 0a1.3 1.3 0 1 0 -2.6 0M312.7 401.4a1.3 1.3 0 1 0 2.6 0a1.3 1.3 0 1 0 -2.6 0M314.2 401.4a1.3 1.3 0 1 0 2.6 0a1.3 1.3 0 1 0 -2.6 0M315.7 401.4a1.3 1.3 0 1 0 2.6 0a1.3 1.3 0 1 0 -2.6 0M317.2 401.4a1.3 1.3 0 1 0 2.6 0a1.3 1.3 0 1 0 -2.6 0M318.7 401.4a1.3 1.3 0 1 0 2.6 0a1.3 1.3 0 1 0 -2.6 0M320.2 401.4a1.3 1.3 0 1 0 2.6 0a1.3 1.3 0 1 0 -2.6 0M321.7 401.4a1.3 1.3 0 1 0 2.6 0a1.3 1.3 0 1 0 -2.6 0M323.2 401.4a1.3 1.3 0 1 0 2.6 0a1.3 1.3 0 1 0 -2.6 0M324.7 401.4a1.3 1.3 0 1 0 2.6 0a1.3 1.3 0 1 0 -2.6 0M326.2 401.4a1.3 1.3 0 1 0 2.6 0a1.3 1.3 0 1 0 -2.6 0M327.7 401.4a1.3 1.3 0 1 0 2.6 0a1.3 1.3 0 1 0 -2.6 0M329.2 401.4a1.3 1.3 0 1 0 2.6 0a1.3 1.3 0 1 0 -2.6 0M330.7 401.4a1.3 1.3 0 1 0 2.6 0a1.3 1.3 0 1 0 -2.6 0M332.2 401.4a1.3 1.3 0 1 0 2.6 0a1.3 1.3 0 1 0 -2.6 0M358.4 317.5a1.3 1.3 0 1 0 2.6 0a1.3 1.3 0 1 0 -2.6 0M358.1 351.1a1.3 1.3 0 1 0 2.6 0a1.3 1.3 0 1 0 -2.6 0M359.7 351.1a1.3 1.3 0 1 0 2.6 0a1.3 1.3 0 1 0 -2.6 0M357.6 368.1a1.3 1.3 0 1 0 2.6 0a1.3 1.3 0 1 0 -2.6 0M359.2 368.1a1.3 1.3 0 1 0 2.6 0a1.3 1.3 0 1 0 -2.6 0M355.2 384.9a1.3 1.3 0 1 0 2.6 0a1.3 1.3 0 1 0 -2.6 0M358.4 384.9a1.3 1.3 0 1 0 2.6 0a1.3 1.3 0 1 0 -2.6 0M361.6 384.9a1.3 1.3 0 1 0 2.6 0a1.3 1.3 0 1 0 -2.6 0M346.5 401.4a1.3 1.3 0 1 0 2.6 0a1.3 1.3 0 1 0 -2.6 0M348 401.4a1.3 1.3 0 1 0 2.6 0a1.3 1.3 0 1 0 -2.6 0M349.5 401.4a1.3 1.3 0 1 0 2.6 0a1.3 1.3 0 1 0 -2.6 0M351 401.4a1.3 1.3 0 1 0 2.6 0a1.3 1.3 0 1 0 -2.6 0M352.5 401.4a1.3 1.3 0 1 0 2.6 0a1.3 1.3 0 1 0 -2.6 0M354 401.4a1.3 1.3 0 1 0 2.6 0a1.3 1.3 0 1 0 -2.6 0M355.5 401.4a1.3 1.3 0 1 0 2.6 0a1.3 1.3 0 1 0 -2.6 0M357 401.4a1.3 1.3 0 1 0 2.6 0a1.3 1.3 0 1 0 -2.6 0M358.5 401.4a1.3 1.3 0 1 0 2.6 0a1.3 1.3 0 1 0 -2.6 0M360 401.4a1.3 1.3 0 1 0 2.6 0a1.3 1.3 0 1 0 -2.6 0M361.5 401.4a1.3 1.3 0 1 0 2.6 0a1.3 1.3 0 1 0 -2.6 0M363 401.4a1.3 1.3 0 1 0 2.6 0a1.3 1.3 0 1 0 -2.6 0M364.5 401.4a1.3 1.3 0 1 0 2.6 0a1.3 1.3 0 1 0 -2.6 0M366 401.4a1.3 1.3 0 1 0 2.6 0a1.3 1.3 0 1 0 -2.6 0M367.5 401.4a1.3 1.3 0 1 0 2.6 0a1.3 1.3 0 1 0 -2.6 0M369 401.4a1.3 1.3 0 1 0 2.6 0a1.3 1.3 0 1 0 -2.6 0M370.5 401.4a1.3 1.3 0 1 0 2.6 0a1.3 1.3 0 1 0 -2.6 0" class="dt"/>
<text x="289.6" y="404.4" class="tk">0</text>
<text x="289.6" y="377.46" class="tk">20</text>
<text x="289.6" y="350.52" class="tk">40</text>
<text x="289.6" y="323.58" class="tk">60</text>
<text x="289.6" y="296.64" class="tk">80</text>
<text x="289.6" y="269.7" class="tk">100</text>
<text transform="translate(321.3 412.1) rotate(-45)" class="xl">Baseline</text>
<text transform="translate(359.4 412.1) rotate(-45)" class="xl">12-months</text>
<text x="340.9" y="240.8" class="ti">Mouth Score</text>
<path d="M320.5 263.5V257.2H358.5V263.5" class="br"/>
<path d="M338.32 254.80L339.22 249.00M340.08 254.80L340.98 249.00M337.45 250.86H341.85M337.45 252.94H341.85" stroke="#1a1a1a" stroke-width="0.95" fill="none"/>
<rect x="436.8" y="368.4" width="23.8" height="33" class="gb"/>
<rect x="475.1" y="372.4" width="23.4" height="29" class="hb"/>
<path d="M448.7 368.4V362.1M442.6 362.1H454.8" class="eb"/>
<path d="M486.8 372.4V364.3M480.7 364.3H492.9" class="eb"/>
<path d="M423.1 263.9V401.4H513.1M419.9 401.4H423.1M419.9 374.46H423.1M419.9 347.52H423.1M419.9 320.58H423.1M419.9 293.64H423.1M419.9 266.7H423.1M448.7 401.4v3.5M486.8 401.4v3.5" class="ax"/>
<path d="M447.5 266.7a1.3 1.3 0 1 0 2.6 0a1.3 1.3 0 1 0 -2.6 0M447.5 300.7a1.3 1.3 0 1 0 2.6 0a1.3 1.3 0 1 0 -2.6 0M447.5 312a1.3 1.3 0 1 0 2.6 0a1.3 1.3 0 1 0 -2.6 0M447.6 334.4a1.3 1.3 0 1 0 2.6 0a1.3 1.3 0 1 0 -2.6 0M445.85 345.6a1.3 1.3 0 1 0 2.6 0a1.3 1.3 0 1 0 -2.6 0M449.15 345.6a1.3 1.3 0 1 0 2.6 0a1.3 1.3 0 1 0 -2.6 0M442.55 356.8a1.3 1.3 0 1 0 2.6 0a1.3 1.3 0 1 0 -2.6 0M445.85 356.8a1.3 1.3 0 1 0 2.6 0a1.3 1.3 0 1 0 -2.6 0M449.15 356.8a1.3 1.3 0 1 0 2.6 0a1.3 1.3 0 1 0 -2.6 0M452.45 356.8a1.3 1.3 0 1 0 2.6 0a1.3 1.3 0 1 0 -2.6 0M447.6 362.1a1.3 1.3 0 1 0 2.6 0a1.3 1.3 0 1 0 -2.6 0M442.55 368a1.3 1.3 0 1 0 2.6 0a1.3 1.3 0 1 0 -2.6 0M445.85 368a1.3 1.3 0 1 0 2.6 0a1.3 1.3 0 1 0 -2.6 0M449.15 368a1.3 1.3 0 1 0 2.6 0a1.3 1.3 0 1 0 -2.6 0M452.45 368a1.3 1.3 0 1 0 2.6 0a1.3 1.3 0 1 0 -2.6 0M439.25 379a1.3 1.3 0 1 0 2.6 0a1.3 1.3 0 1 0 -2.6 0M442.55 379a1.3 1.3 0 1 0 2.6 0a1.3 1.3 0 1 0 -2.6 0M445.85 379a1.3 1.3 0 1 0 2.6 0a1.3 1.3 0 1 0 -2.6 0M449.15 379a1.3 1.3 0 1 0 2.6 0a1.3 1.3 0 1 0 -2.6 0M452.45 379a1.3 1.3 0 1 0 2.6 0a1.3 1.3 0 1 0 -2.6 0M455.75 379a1.3 1.3 0 1 0 2.6 0a1.3 1.3 0 1 0 -2.6 0M445.85 390.2a1.3 1.3 0 1 0 2.6 0a1.3 1.3 0 1 0 -2.6 0M449.15 390.2a1.3 1.3 0 1 0 2.6 0a1.3 1.3 0 1 0 -2.6 0M437.6 401.4a1.3 1.3 0 1 0 2.6 0a1.3 1.3 0 1 0 -2.6 0M440.9 401.4a1.3 1.3 0 1 0 2.6 0a1.3 1.3 0 1 0 -2.6 0M444.2 401.4a1.3 1.3 0 1 0 2.6 0a1.3 1.3 0 1 0 -2.6 0M447.5 401.4a1.3 1.3 0 1 0 2.6 0a1.3 1.3 0 1 0 -2.6 0M450.8 401.4a1.3 1.3 0 1 0 2.6 0a1.3 1.3 0 1 0 -2.6 0M454.1 401.4a1.3 1.3 0 1 0 2.6 0a1.3 1.3 0 1 0 -2.6 0M457.4 401.4a1.3 1.3 0 1 0 2.6 0a1.3 1.3 0 1 0 -2.6 0M485.9 266.7a1.3 1.3 0 1 0 2.6 0a1.3 1.3 0 1 0 -2.6 0M485.9 300.7a1.3 1.3 0 1 0 2.6 0a1.3 1.3 0 1 0 -2.6 0M485.9 312a1.3 1.3 0 1 0 2.6 0a1.3 1.3 0 1 0 -2.6 0M484.25 334.4a1.3 1.3 0 1 0 2.6 0a1.3 1.3 0 1 0 -2.6 0M487.55 334.4a1.3 1.3 0 1 0 2.6 0a1.3 1.3 0 1 0 -2.6 0M486 356.8a1.3 1.3 0 1 0 2.6 0a1.3 1.3 0 1 0 -2.6 0M480.95 368a1.3 1.3 0 1 0 2.6 0a1.3 1.3 0 1 0 -2.6 0M484.25 368a1.3 1.3 0 1 0 2.6 0a1.3 1.3 0 1 0 -2.6 0M487.55 368a1.3 1.3 0 1 0 2.6 0a1.3 1.3 0 1 0 -2.6 0M490.85 368a1.3 1.3 0 1 0 2.6 0a1.3 1.3 0 1 0 -2.6 0M484.25 379a1.3 1.3 0 1 0 2.6 0a1.3 1.3 0 1 0 -2.6 0M487.55 379a1.3 1.3 0 1 0 2.6 0a1.3 1.3 0 1 0 -2.6 0M482.6 390.2a1.3 1.3 0 1 0 2.6 0a1.3 1.3 0 1 0 -2.6 0M485.9 390.2a1.3 1.3 0 1 0 2.6 0a1.3 1.3 0 1 0 -2.6 0M489.2 390.2a1.3 1.3 0 1 0 2.6 0a1.3 1.3 0 1 0 -2.6 0M474.35 401.4a1.3 1.3 0 1 0 2.6 0a1.3 1.3 0 1 0 -2.6 0M477.65 401.4a1.3 1.3 0 1 0 2.6 0a1.3 1.3 0 1 0 -2.6 0M480.95 401.4a1.3 1.3 0 1 0 2.6 0a1.3 1.3 0 1 0 -2.6 0M484.25 401.4a1.3 1.3 0 1 0 2.6 0a1.3 1.3 0 1 0 -2.6 0M487.55 401.4a1.3 1.3 0 1 0 2.6 0a1.3 1.3 0 1 0 -2.6 0M490.85 401.4a1.3 1.3 0 1 0 2.6 0a1.3 1.3 0 1 0 -2.6 0M494.15 401.4a1.3 1.3 0 1 0 2.6 0a1.3 1.3 0 1 0 -2.6 0M497.45 401.4a1.3 1.3 0 1 0 2.6 0a1.3 1.3 0 1 0 -2.6 0" class="dt"/>
<text x="416.8" y="404.4" class="tk">0</text>
<text x="416.8" y="377.46" class="tk">20</text>
<text x="416.8" y="350.52" class="tk">40</text>
<text x="416.8" y="323.58" class="tk">60</text>
<text x="416.8" y="296.64" class="tk">80</text>
<text x="416.8" y="269.7" class="tk">100</text>
<text transform="translate(448.5 412.1) rotate(-45)" class="xl">Baseline</text>
<text transform="translate(486.6 412.1) rotate(-45)" class="xl">12-months</text>
<text x="468.1" y="240.8" class="ti">Psych Score</text>
<text transform="translate(16.5 110.55) rotate(-90)" class="yl" textLength="50" lengthAdjust="spacingAndGlyphs">Lee GVHD score</text>
<text transform="translate(16.5 336.3) rotate(-90)" class="yl" textLength="50" lengthAdjust="spacingAndGlyphs">Lee GVHD score</text>
</svg>
</body></html>
